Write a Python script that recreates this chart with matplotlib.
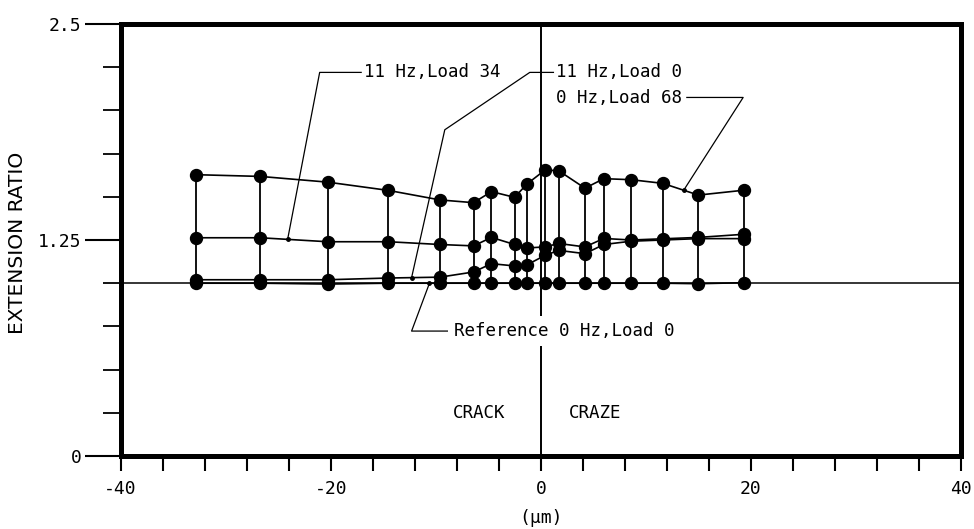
import numpy as np
import matplotlib.pyplot as plt
from matplotlib.ticker import MultipleLocator

plt.rcParams['axes.unicode_minus'] = False

# distance from crack tip (um) and extension ratio
pos = [-32.8, -26.7, -20.3, -14.5, -9.6, -6.4, -4.7, -2.5, -1.3, 0.4, 1.7, 4.2, 6.0, 8.6, 11.6, 15.0, 19.3]
load68 = [1.628, 1.618, 1.585, 1.537, 1.482, 1.466, 1.530, 1.497, 1.575, 1.655, 1.651, 1.550, 1.605, 1.599, 1.578, 1.510, 1.538]
load34 = [1.263, 1.263, 1.240, 1.240, 1.224, 1.216, 1.265, 1.224, 1.204, 1.210, 1.230, 1.210, 1.259, 1.250, 1.257, 1.265, 1.283]
load0 = [1.020, 1.020, 1.020, 1.030, 1.035, 1.065, 1.113, 1.100, 1.107, 1.161, 1.190, 1.171, 1.224, 1.243, 1.250, 1.258, 1.258]
ref = [1.000, 1.000, 0.995, 1.000, 1.000, 1.000, 1.000, 1.000, 1.000, 1.000, 1.000, 1.000, 1.000, 1.000, 1.000, 0.997, 1.003]

y_ticks = [0, 1.25, 2.5]
y_labels = ['0', '1.25', '2.5']
x_ticks = [-40, -20, 0, 20, 40]

mono = 'DejaVu Sans Mono'

fig = plt.figure(figsize=(9.74, 5.29), dpi=100)
ax = fig.add_axes([0.1238, 0.138, 0.8629, 0.8166])
ax.set_xlim(-40, 40)
ax.set_ylim(0, 2.5)

ax.axhline(1.0, color='k', lw=1.1, zorder=1)
ax.axvline(0, color='k', lw=1.4, zorder=1)
ax.vlines(pos, ref, load68, colors='k', lw=1.3, zorder=2)
for s in [load68, load34, load0, ref]:
    ax.plot(pos, s, '-o', color='k', lw=1.2, ms=8.6, zorder=3)

# labels with leader lines
def leader(pts, series, tip_x):
    tip_y = np.interp(tip_x, pos, series)
    xs = [p[0] for p in pts] + [tip_x]
    ys = [p[1] for p in pts] + [tip_y]
    ax.plot(xs, ys, color='k', lw=0.9, zorder=4)
    ax.plot(tip_x, tip_y, 'o', color='k', ms=2.5, zorder=4)

ax.text(-16.8, 2.22, '11 Hz,Load 34', family=mono, fontsize=12.6, va='center')
leader([(-17.1, 2.22), (-21.05, 2.22)], load34, -24.1)

ax.text(1.4, 2.22, '11 Hz,Load 0', family=mono, fontsize=12.6, va='center')
leader([(1.2, 2.22), (-1.05, 2.22), (-9.14, 1.888)], load0, -12.3)

ax.text(1.4, 2.072, '0 Hz,Load 68', family=mono, fontsize=12.6, va='center')
leader([(13.9, 2.075), (19.26, 2.075)], load68, 13.6)

ax.text(-8.3, 0.723, 'Reference 0 Hz,Load 0', family=mono, fontsize=12.6, va='center',
        bbox=dict(fc='white', ec='none', pad=4), zorder=5)
leader([(-8.5, 0.723), (-12.3, 0.723)], ref, -10.6)

ax.text(-5.9, 0.25, 'CRACK', family=mono, fontsize=12.6, ha='center', va='center')
ax.text(5.2, 0.25, 'CRAZE', family=mono, fontsize=12.6, ha='center', va='center')

# axes styling
for sp in ax.spines.values():
    sp.set_linewidth(3.6)

ax.set_yticks(y_ticks, labels=y_labels)
ax.yaxis.set_minor_locator(MultipleLocator(0.25))
ax.set_xticks(x_ticks)
ax.xaxis.set_minor_locator(MultipleLocator(4))

ax.tick_params(axis='y', which='major', length=26, width=1.5, pad=2, labelsize=13)
ax.tick_params(axis='y', which='minor', length=13, width=1.3)
ax.tick_params(axis='x', which='both', length=11, width=1.5)
ax.tick_params(axis='x', which='major', pad=6, labelsize=13)
for lab in ax.get_xticklabels() + ax.get_yticklabels():
    lab.set_family(mono)

ax.set_ylabel('EXTENSION RATIO', fontsize=14.5, family='DejaVu Sans')
ax.yaxis.set_label_coords(-0.111, 0.493)
ax.set_xlabel('(μm)', fontsize=13, family=mono)
ax.xaxis.set_label_coords(0.5, -0.122)

fig.savefig('out.png', dpi=100)
